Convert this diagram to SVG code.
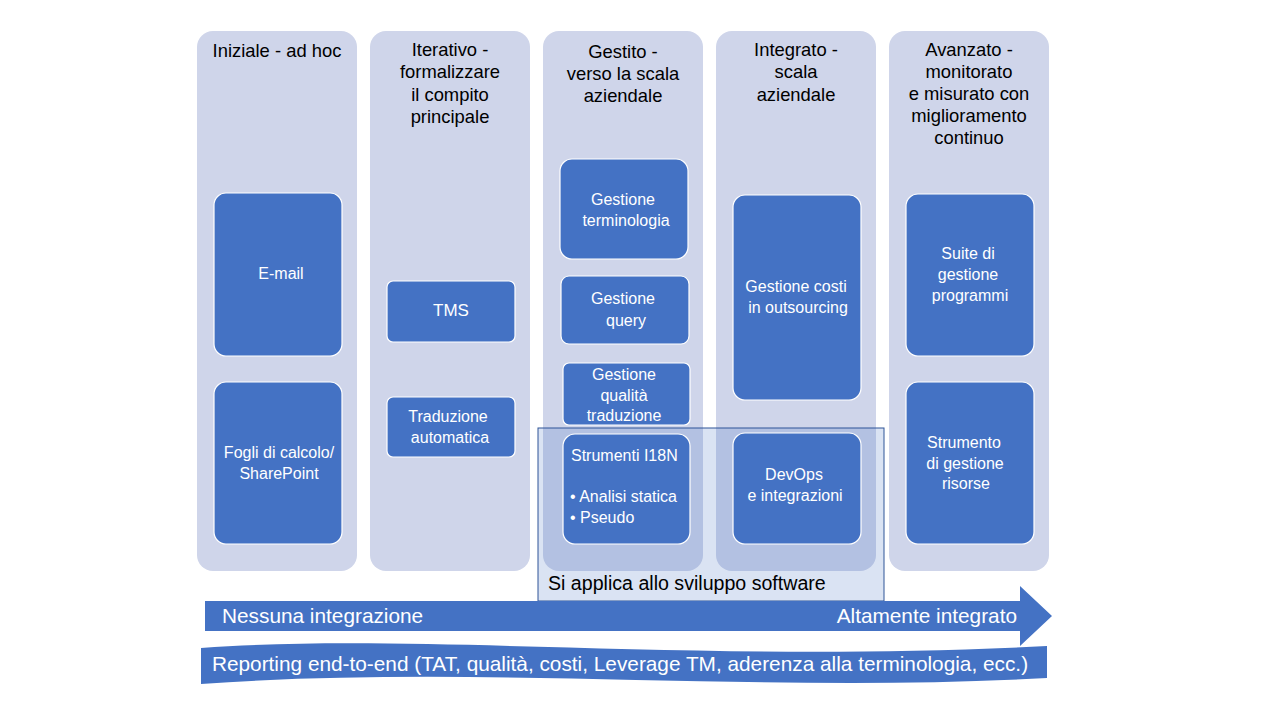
<svg xmlns="http://www.w3.org/2000/svg" width="1280" height="720" viewBox="0 0 1280 720">
<style>
.col{fill:#CFD5EA}
.box{fill:#4472C4;stroke:#FFFFFF;stroke-width:1.2}
.hd{font-family:"Liberation Sans",Arial,sans-serif;font-size:18.4px;fill:#000;text-anchor:middle}
.bt{font-family:"Liberation Sans",Arial,sans-serif;font-size:16px;fill:#FFFFFF;text-anchor:middle}
.bl{font-family:"Liberation Sans",Arial,sans-serif;font-size:16px;fill:#FFFFFF}
.wt{font-family:"Liberation Sans",Arial,sans-serif;font-size:20.8px;fill:#FFFFFF}
</style>
<rect width="1280" height="720" fill="#FFFFFF"/>
<g id="col1"><rect class="col" x="197" y="31" width="160" height="540" rx="16"/>
<text class="hd" x="277" y="57">Iniziale - ad hoc</text></g>
<g id="col2"><rect class="col" x="370" y="31" width="160" height="540" rx="16"/>
<text class="hd" x="450" y="56">Iterativo -</text><text class="hd" x="450" y="78">formalizzare</text><text class="hd" x="450" y="101">il compito</text><text class="hd" x="450" y="123">principale</text></g>
<g id="col3"><rect class="col" x="543" y="31" width="160" height="540" rx="16"/>
<text class="hd" x="623" y="58">Gestito -</text><text class="hd" x="623" y="80">verso la scala</text><text class="hd" x="623" y="102">aziendale</text></g>
<g id="col4"><rect class="col" x="716" y="31" width="160" height="540" rx="16"/>
<text class="hd" x="796" y="56">Integrato -</text><text class="hd" x="796" y="78">scala</text><text class="hd" x="796" y="101">aziendale</text></g>
<g id="col5"><rect class="col" x="889" y="31" width="160" height="540" rx="16"/>
<text class="hd" x="969" y="56">Avanzato -</text><text class="hd" x="969" y="78">monitorato</text><text class="hd" x="969" y="100">e misurato con</text><text class="hd" x="969" y="122">miglioramento</text><text class="hd" x="969" y="144">continuo</text></g>
<g id="software"><rect x="538" y="428" width="346" height="173" fill="#4472C4" fill-opacity="0.2" stroke="#2F5597" stroke-width="1"/>
<text x="548" y="590" style="font-family:'Liberation Sans',Arial,sans-serif;font-size:19.6px;fill:#000">Si applica allo sviluppo software</text></g>
<g id="email"><rect class="box" x="214" y="193" width="128" height="163" rx="12"/><text class="bt" x="281" y="279">E-mail</text></g>
<g id="fogli"><rect class="box" x="214" y="382" width="128" height="162" rx="12"/><text class="bt" x="279" y="458">Fogli di calcolo/</text><text class="bt" x="279" y="479">SharePoint</text></g>
<g id="tms"><rect class="box" x="387" y="281" width="128" height="61" rx="6"/><text class="bt" x="451" y="316" style="font-size:17px">TMS</text></g>
<g id="mt"><rect class="box" x="387" y="397" width="128" height="60" rx="6"/><text class="bt" x="448" y="422">Traduzione</text><text class="bt" x="450" y="443">automatica</text></g>
<g id="term"><rect class="box" x="560" y="159" width="128" height="100" rx="12"/><text class="bt" x="623" y="205">Gestione</text><text class="bt" x="626" y="226">terminologia</text></g>
<g id="query"><rect class="box" x="561" y="276" width="128" height="68" rx="8"/><text class="bt" x="623" y="304">Gestione</text><text class="bt" x="626" y="326">query</text></g>
<g id="qual"><rect class="box" x="563" y="363" width="127" height="62" rx="6"/><text class="bt" x="624" y="380">Gestione</text><text class="bt" x="624" y="401">qualità</text><text class="bt" x="624" y="421">traduzione</text></g>
<g id="i18n"><rect class="box" x="563" y="434" width="127" height="110" rx="12"/><text class="bl" x="571" y="461">Strumenti I18N</text><text class="bl" x="570" y="502">• Analisi statica</text><text class="bl" x="570" y="523">• Pseudo</text></g>
<g id="costi"><rect class="box" x="733" y="195" width="128" height="205" rx="12"/><text class="bt" x="796" y="292">Gestione costi</text><text class="bt" x="798" y="313">in outsourcing</text></g>
<g id="devops"><rect class="box" x="733" y="433" width="128" height="111" rx="12"/><text class="bt" x="794" y="480">DevOps</text><text class="bt" x="795" y="501">e integrazioni</text></g>
<g id="suite"><rect class="box" x="906" y="194" width="128" height="162" rx="12"/><text class="bt" x="968" y="259">Suite di</text><text class="bt" x="968" y="280">gestione</text><text class="bt" x="970" y="301">programmi</text></g>
<g id="risorse"><rect class="box" x="906" y="382" width="128" height="162" rx="12"/><text class="bt" x="964" y="448">Strumento</text><text class="bt" x="965" y="469">di gestione</text><text class="bt" x="966" y="489">risorse</text></g>
<g id="connectors">
<g id="arrow"><polygon points="205,601 1020,601 1020,586 1052,616 1020,646 1020,631 205,631" fill="#4472C4"/>
<text class="wt" x="222" y="623">Nessuna integrazione</text>
<text class="wt" x="1017" y="623" text-anchor="end">Altamente integrato</text></g>
</g>
<g id="reporting"><path d="M201,648 C420,632 700,664 1047,646 L1047,678 C760,694 480,664 201,684 Z" fill="#4472C4"/>
<text class="wt" x="620" y="671" text-anchor="middle">Reporting end-to-end (TAT, qualità, costi, Leverage TM, aderenza alla terminologia, ecc.)</text></g>
</svg>
